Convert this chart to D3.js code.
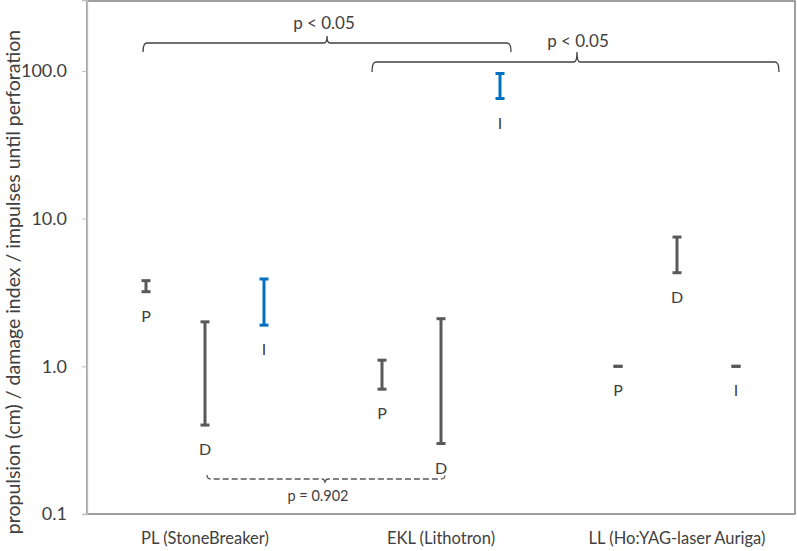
<!DOCTYPE html>
<html>
<head>
<meta charset="utf-8">
<script src="https://cdn.jsdelivr.net/npm/d3@7"></script>
<style>
  body { margin: 0; background: #fff; }
  text { font-family: Lato, "Open Sans", sans-serif; fill: #404040; }
</style>
</head>
<body>
<script>
// groups and series
let groups = ["PL (StoneBreaker)", "EKL (Lithotron)", "LL (Ho:YAG-laser Auriga)"]
let series = ["P", "D", "I"]

// low / high ends of each range, one value per group
let pLow = [3.2, 0.7, 1.0]
let pHigh = [3.8, 1.1, 1.0]
let dLow = [0.4, 0.3, 4.3]
let dHigh = [2.0, 2.1, 7.5]
let iLow = [1.9, 65, 1.0]
let iHigh = [3.9, 96, 1.0]

let yTicks = [0.1, 1, 10, 100]
let yTitle = "propulsion (cm) / damage index / impulses until perforation"

let w = 797
let h = 551
let pLeft = 87, pRight = 795, pTop = 1, pBottom = 514

let svg = d3.select("body").append("svg")
  .attr("width", w)
  .attr("height", h)

let x = d3.scaleBand().domain(groups).range([pLeft, pRight])
let xs = d3.scalePoint().domain(series).range([0, x.bandwidth()]).padding(1)
let y = d3.scaleLog().domain([0.1, 302]).range([pBottom, pTop - 1])

let lows = {P: pLow, D: dLow, I: iLow}
let highs = {P: pHigh, D: dHigh, I: iHigh}

let points = []
groups.forEach((g, gi) => {
  series.forEach((s) => {
    points.push({
      group: g, s: s,
      lo: lows[s][gi], hi: highs[s][gi],
      color: (s === "I" && gi < 2) ? "#0070C0" : "#595959"
    })
  })
})

// frame
svg.append("rect")
  .attr("x", pLeft).attr("y", pTop)
  .attr("width", pRight - pLeft).attr("height", pBottom - pTop)
  .attr("fill", "none").attr("stroke", "#6e6e6e").attr("stroke-width", 1.3)

// y axis
let yAxis = d3.axisLeft(y).tickValues(yTicks).tickFormat(d3.format(".1f")).tickSize(5).tickPadding(15)
let ya = svg.append("g").attr("transform", "translate(" + pLeft + ",0)").call(yAxis)
ya.select(".domain").attr("stroke", "#bfbfbf").attr("stroke-width", 1.3)
ya.selectAll(".tick line").attr("stroke", "#bfbfbf")
ya.selectAll(".tick text").attr("font-size", 18).attr("fill", "#404040").attr("font-family", "Lato")

// category labels
svg.selectAll(".cat")
  .data(groups)
  .enter().append("text")
  .attr("class", "cat")
  .attr("x", (d) => x(d) + x.bandwidth() / 2)
  .attr("y", 544)
  .attr("text-anchor", "middle")
  .attr("font-size", 16.5)
  .text((d) => d)

// y title
svg.append("text")
  .attr("transform", "translate(20," + 282 + ") rotate(-90)")
  .attr("text-anchor", "middle")
  .attr("font-size", 19.5)
  .text(yTitle)

// range bars
let bars = svg.selectAll(".bar")
  .data(points)
  .enter().append("g")
  .attr("class", "bar")
  .attr("transform", (d) => "translate(" + (x(d.group) + xs(d.s)) + ",0)")

bars.append("line")
  .attr("y1", (d) => y(d.lo)).attr("y2", (d) => y(d.hi))
  .attr("stroke", (d) => d.color).attr("stroke-width", 3)

bars.selectAll(".cap")
  .data((d) => [d, {...d, lo: d.hi}])
  .enter().append("line")
  .attr("x1", -4.5).attr("x2", 4.5)
  .attr("y1", (d) => y(d.lo)).attr("y2", (d) => y(d.lo))
  .attr("stroke", (d) => d.color).attr("stroke-width", 3)

bars.append("text")
  .attr("y", (d) => y(d.lo) + 30)
  .attr("text-anchor", "middle")
  .attr("font-size", 16)
  .text((d) => d.s)

// significance brackets
let brace = (x0, x1, xc, yH, yEnd, yTip) => {
  return "M" + x0 + "," + yEnd + " Q" + x0 + "," + yH + " " + (x0 + 4) + "," + yH +
    " L" + (xc - 3) + "," + yH + " Q" + xc + "," + yH + " " + xc + "," + yTip +
    " Q" + xc + "," + yH + " " + (xc + 3) + "," + yH +
    " L" + (x1 - 4) + "," + yH + " Q" + x1 + "," + yH + " " + x1 + "," + yEnd
}

let xPos = (g, s) => x(groups[g]) + xs(s)

let b1x0 = xPos(0, "P") - 3, b1x1 = xPos(1, "I") + 11
svg.append("path")
  .attr("d", brace(b1x0, b1x1, 327, 43, 52, 36))
  .attr("fill", "none").attr("stroke", "#404040").attr("stroke-width", 1.3)
svg.append("text").attr("x", 324).attr("y", 29)
  .attr("text-anchor", "middle").attr("font-size", 17).text("p < 0.05")

let b2x0 = xPos(1, "P") - 10, b2x1 = xPos(2, "I") + 43
svg.append("path")
  .attr("d", brace(b2x0, b2x1, 577, 62, 72, 52))
  .attr("fill", "none").attr("stroke", "#404040").attr("stroke-width", 1.3)
svg.append("text").attr("x", 578).attr("y", 47)
  .attr("text-anchor", "middle").attr("font-size", 17).text("p < 0.05")

// dashed bracket between D bars
let b3x0 = xPos(0, "D") + 2, b3x1 = xPos(1, "D") + 4
svg.append("path")
  .attr("d", brace(b3x0, b3x1, 325, 479, 475, 484))
  .attr("fill", "none").attr("stroke", "#595959").attr("stroke-width", 1.3)
  .attr("stroke-dasharray", "6,3")
svg.append("text").attr("x", 318).attr("y", 501)
  .attr("text-anchor", "middle").attr("font-size", 14.5).text("p = 0.902")
</script>
</body>
</html>
